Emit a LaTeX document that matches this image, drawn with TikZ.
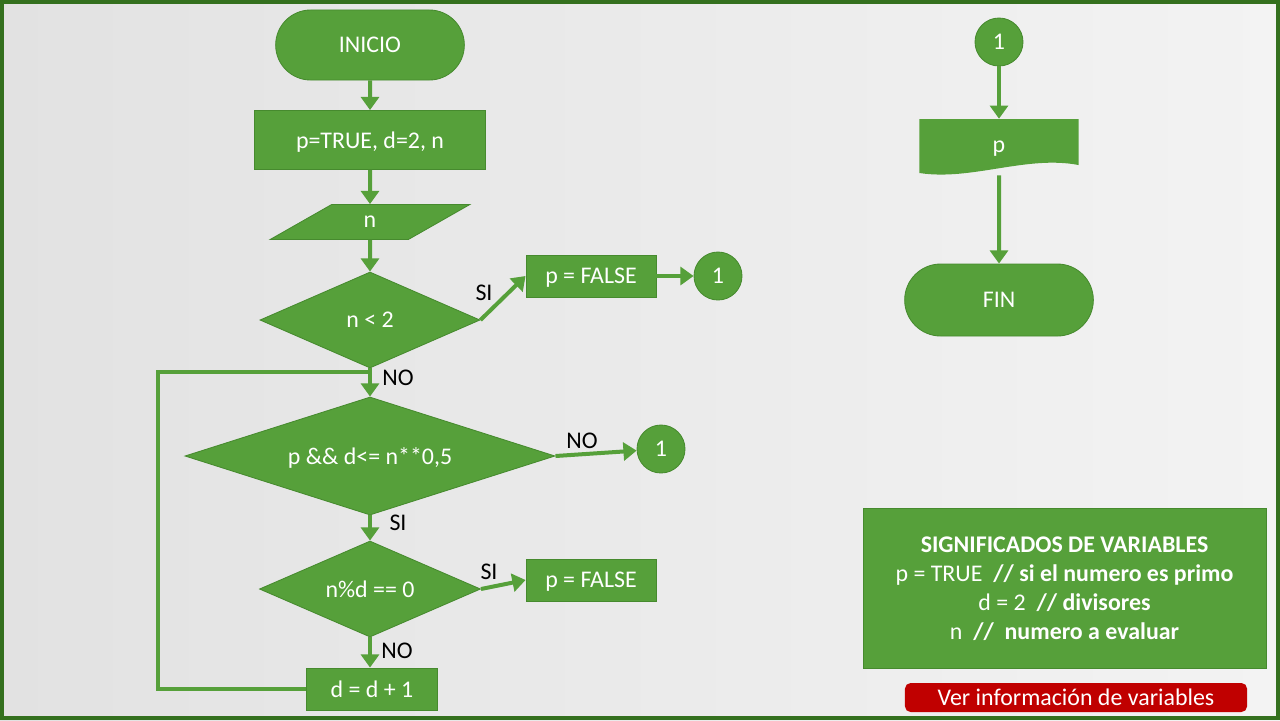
\documentclass[tikz,border=0pt]{standalone}
\usepackage{fontspec}
\setmainfont{Carlito}
\usepackage{tikz}
\usetikzlibrary{shapes.geometric, shapes.misc, arrows.meta, positioning}
\definecolor{flowgreen}{RGB}{86,160,58}
\definecolor{flowedge}{RGB}{70,138,46}
\definecolor{framegreen}{RGB}{52,112,30}
\definecolor{btnred}{RGB}{192,0,0}
\definecolor{bgleft}{RGB}{226,226,226}
\definecolor{bgright}{RGB}{243,243,243}
\tikzstyle{base} = [fill=flowgreen, draw=flowedge, line width=0.6pt, text=white, font=\fontsize{17}{20}\selectfont, align=center, text depth=0pt]
\tikzstyle{startstop} = [base, rounded rectangle, minimum width=4.95cm, minimum height=1.75cm]
\tikzstyle{process} = [base, rectangle, minimum height=1.05cm]
\tikzstyle{io} = [base, trapezium, trapezium left angle=49, trapezium right angle=131, trapezium stretches=true, minimum width=5cm, minimum height=0.875cm, inner sep=0pt]
\tikzstyle{decision} = [base, diamond, inner sep=0pt, minimum height=2.4cm, aspect=2.3]
\tikzstyle{connector} = [base, circle, minimum size=1.2cm, inner sep=0pt]
\tikzstyle{docbox} = [text=white, font=\fontsize{17}{20}\selectfont, text depth=0pt, minimum width=3.975cm, minimum height=1.4cm]
\tikzstyle{arrow} = [flowgreen, line width=0.1cm, -{Triangle[length=3.3mm,width=4.5mm]}]
\tikzstyle{flowline} = [flowgreen, line width=0.1cm]
\tikzstyle{lbl} = [font=\fontsize{17}{20}\selectfont, text=black, inner sep=0pt]

\begin{document}
\begin{tikzpicture}[x=0.025cm, y=-0.025cm]
% background and frame
\shade[left color=bgleft, right color=bgright] (0,0) rectangle (1280,720);
\draw[framegreen, line width=0.1cm] (2,2) rectangle (1278,718);
\useasboundingbox (0,0) rectangle (1280,720);

% main flow
\node[startstop] (inicio) at (370,45) {INICIO};
\node[process, minimum width=5.775cm, minimum height=1.475cm] (init) at (370,140) {p=TRUE, d=2, n};
\node[io] (readn) at (370,222) {n};
\node[decision, minimum width=5.5cm] (less) at (370,320) {n < 2};
\node[process, minimum width=3.25cm] (false1) at (591,276) {p = FALSE};
\node[connector] (one1) at (718,276) {1};
\node[decision, minimum width=9.25cm, minimum height=2.95cm, aspect=3.1] (loop) at (370,456) {p \&\& d<= n**0,5};
\node[connector] (one2) at (661,449) {1};
\node[decision, minimum width=5.525cm] (modd) at (370,589) {n\%d == 0};
\node[process, minimum width=3.25cm] (false2) at (591,580) {p = FALSE};
\node[process, minimum width=3.275cm] (inc) at (372,689) {d = d + 1};
\coordinate (join) at (370,372);

% labels
\node[lbl] (si1) at (484,293) {SI};
\node[lbl] (no1) at (398,378) {NO};
\node[lbl] (no2) at (582,441) {NO};
\node[lbl] (si2) at (398,523) {SI};
\node[lbl] (si3) at (489,572) {SI};
\node[lbl] (no3) at (397,651) {NO};

% arrows
\draw[arrow] (inicio) -- (init);
\draw[arrow] (init) -- (readn);
\draw[arrow] (readn) -- (less);
\draw[arrow] (less.east) -- (false1.west);
\draw[arrow] (false1) -- (one1);
\draw[arrow] (less) -- (loop);
\draw[arrow] (loop.east) -- (one2);
\draw[arrow] (loop) -- (modd);
\draw[arrow] (modd.east) -- (false2.west);
\draw[arrow] (modd) -- (modd.south |- inc.north);
\draw[flowline] (inc.west) -- ++(-148,0) |- (join);

% end part
\node[connector] (one3) at (999,42) {1};
\node[docbox, path picture={
  \fill[flowgreen] (path picture bounding box.north west) -- (path picture bounding box.north east)
    -- ([yshift=0.25cm]path picture bounding box.south east)
    .. controls ([xshift=-1.3cm,yshift=0.5cm]path picture bounding box.south east)
    and ([xshift=1.3cm,yshift=-0.15cm]path picture bounding box.south west)
    .. ([yshift=0.05cm]path picture bounding box.south west) -- cycle;}] (outp) at (999,147) {p};
\node[startstop, minimum width=4.95cm, minimum height=1.8cm] (fin) at (999,300) {FIN};
\draw[arrow] (one3) -- (outp);
\draw[arrow] (outp) -- (fin);

% variables
\node[base, minimum width=10.075cm, minimum height=4cm, font=\fontsize{17}{20.6}\selectfont] (vars) at (1064.5,588)
  {\textbf{SIGNIFICADOS DE VARIABLES}\\ p = TRUE \ \textbf{// si el numero es primo}\\ d = 2 \ \textbf{// divisores}\\ n \ \textbf{//\ \ numero a evaluar}};
\node[fill=btnred, rounded corners=4pt, text=white, minimum width=8.55cm, minimum height=0.725cm, inner sep=0pt, font=\fontsize{17}{20}\selectfont] (info) at (1076,697.5) {Ver información de variables};
\end{tikzpicture}
\end{document}
